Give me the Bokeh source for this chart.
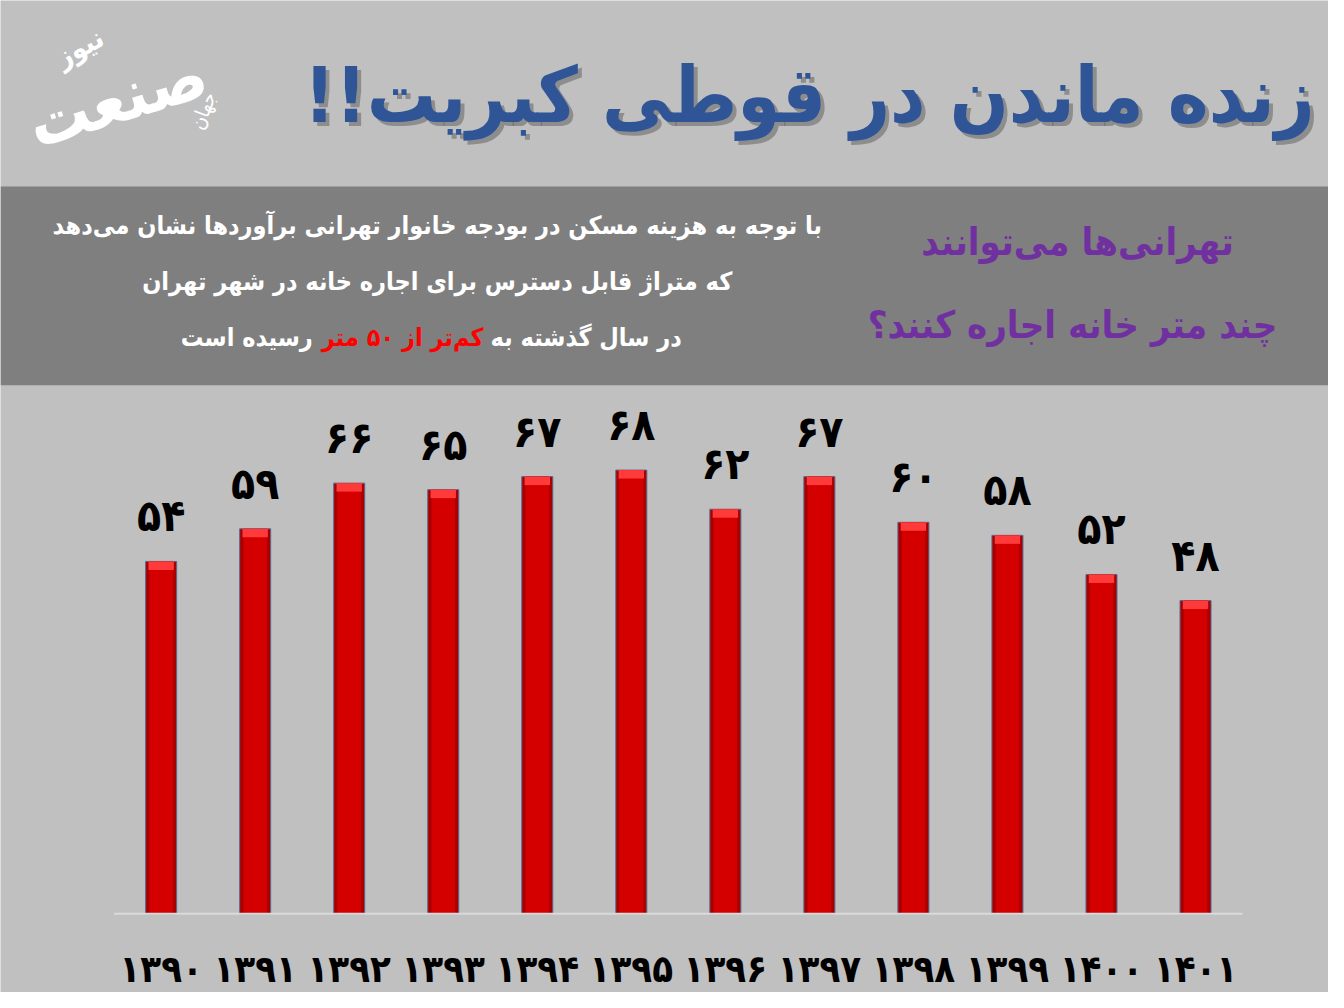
from bokeh.plotting import figure
from bokeh.models import Range1d, ColumnDataSource, LabelSet
from bokeh.core.properties import value
from bokeh.embed import file_html
from bokeh.resources import INLINE

# ---- data ----
years = ["۱۳۹۰", "۱۳۹۱", "۱۳۹۲", "۱۳۹۳", "۱۳۹۴", "۱۳۹۵",
         "۱۳۹۶", "۱۳۹۷", "۱۳۹۸", "۱۳۹۹", "۱۴۰۰", "۱۴۰۱"]
values = [54, 59, 66, 65, 67, 68, 62, 67, 60, 58, 52, 48]
value_labels = ["۵۴", "۵۹", "۶۶", "۶۵", "۶۷", "۶۸", "۶۲", "۶۷", "۶۰", "۵۸", "۵۲", "۴۸"]

title = "زنده ماندن در قوطی کبریت!!\u200f"
sub_lines = ["با توجه به هزینه مسکن در بودجه خانوار تهرانی برآوردها نشان می‌دهد",
             "که متراژ قابل دسترس برای اجاره خانه در شهر تهران"]
sub_last = ["در سال گذشته به", "کم‌تر از ۵۰ متر", "رسیده است"]
question = ["تهرانی‌ها می‌توانند", "چند متر خانه اجاره کنند؟"]

FONT = "DejaVu Sans Condensed"
BG = "#c0c0c0"
W, H = 1344, 1008   # design canvas (reference pixels)

p = figure(width=1328, height=992, x_range=Range1d(0, W), y_range=Range1d(H, 0),
           output_backend="svg", toolbar_location=None, min_border=0)
p.axis.visible = False
p.grid.visible = False
p.outline_line_color = None
p.background_fill_color = BG
p.border_fill_color = BG

# bar scales: categories between x=115..1257, baseline at y=928, 6.63 px per metre
n = len(years)
x0, x1, base, ppu = 115, 1257, 928, 6.63
step = (x1 - x0) / n
p.extra_x_ranges = {"bx": Range1d(-0.5 - x0 / step, n - 0.5 + (W - x1) / step)}
p.extra_y_ranges = {"vy": Range1d(-(H - base) / ppu, base / ppu)}

# ---- header ----
p.quad(left=[0], right=[W], top=[189], bottom=[391], fill_color="#7f7f7f", line_color=None)

# logo
p.text(x=[118], y=[100], text=["صنعت"], text_font=value(FONT), text_font_style="bold",
       text_font_size="68px", text_color="white", text_align="center", text_baseline="middle",
       angle=0.3)
p.text(x=[80], y=[48], text=["نیوز"], text_font=value(FONT), text_font_style="bold",
       text_font_size="28px", text_color="white", text_align="center", text_baseline="middle",
       angle=0.5)
p.text(x=[205], y=[112], text=["جهان"], text_font=value(FONT),
       text_font_size="20px", text_color="white", text_align="center", text_baseline="middle",
       angle=1.2)

# title with shadow
p.text(x=[1334], y=[101], text=[title], text_font=value(FONT), text_font_style="bold",
       text_font_size="77px", text_color="#6a6a6a", text_alpha=0.6,
       text_align="right", text_baseline="middle")
p.text(x=[1330], y=[97], text=[title], text_font=value(FONT), text_font_style="bold",
       text_font_size="77px", text_color="#2f5597",
       text_align="right", text_baseline="middle")

# band text (white paragraph)
p.text(x=[442, 442], y=[229, 286], text=sub_lines, text_font=value(FONT), text_font_style="bold",
       text_font_size="25px", text_color="white", text_align="center", text_baseline="middle")
p.text(x=[496], y=[342], text=[sub_last[0]], text_font=value(FONT), text_font_style="bold",
       text_font_size="25px", text_color="white", text_align="left", text_baseline="middle")
p.text(x=[489], y=[342], text=[sub_last[1]], text_font=value(FONT), text_font_style="bold",
       text_font_size="25px", text_color="#ff0000", text_align="right", text_baseline="middle")
p.text(x=[316], y=[342], text=[sub_last[2]], text_font=value(FONT), text_font_style="bold",
       text_font_size="25px", text_color="white", text_align="right", text_baseline="middle")

# question (purple)
p.text(x=[1090, 1085], y=[245, 330], text=question, text_font=value(FONT), text_font_style="bold",
       text_font_size="38px", text_color="#7030a0", text_align="center", text_baseline="middle")

# ---- chart ----
idx = list(range(n))
src = ColumnDataSource(dict(x=idx, top=values, lab=value_labels,
                            hl=[v - 1.3 for v in values]))
kw = dict(x_range_name="bx", y_range_name="vy", source=src)
p.vbar(x="x", top="top", bottom=0, width=0.33, fill_color="#a80000",
       line_color="#5a6a90", line_width=1, **kw)
p.vbar(x="x", top="top", bottom=0, width=0.25, fill_color="#d40000", line_color=None, **kw)
p.vbar(x="x", top="top", bottom="hl", width=0.27, fill_color="#ff3a3a", line_color=None, **kw)

# baseline (axis line)
p.line(x=[-0.5, n - 0.5], y=[0, 0], line_color="#dadada", line_width=2,
       x_range_name="bx", y_range_name="vy")

p.add_layout(LabelSet(x="x", y="top", text="lab", source=src, y_offset=20,
                      x_range_name="bx", y_range_name="vy",
                      text_align="center", text_baseline="bottom",
                      text_font=value(FONT), text_font_style="bold",
                      text_font_size="44px", text_color="black"))

# category (year) labels
p.text(x=idx, y=[-(984 - base) / ppu] * n, text=years, x_range_name="bx", y_range_name="vy",
       text_font=value(FONT), text_font_style="bold", text_font_size="38px",
       text_color="black", text_align="center", text_baseline="middle")

open("out.html", "w").write(file_html(p, INLINE))
